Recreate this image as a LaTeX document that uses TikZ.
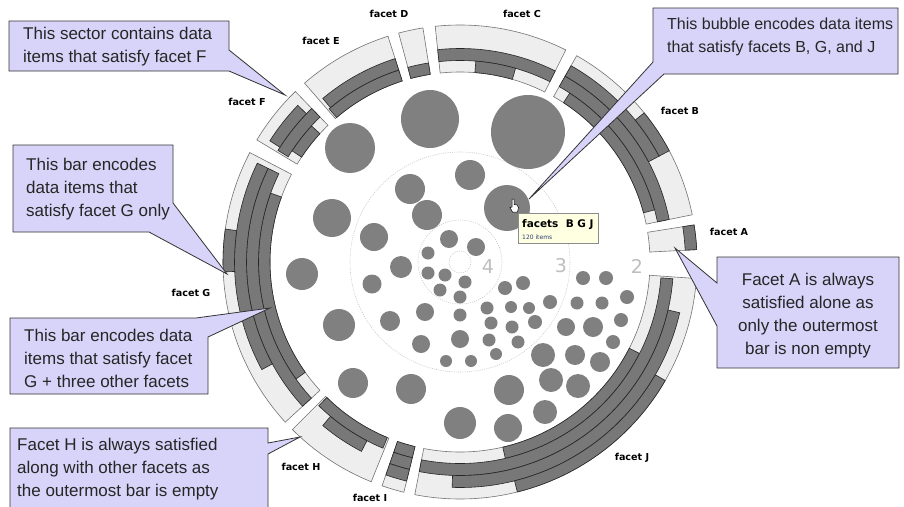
\documentclass[tikz,border=0pt]{standalone}
\usepackage{fontspec}
\newfontfamily\arialf{Liberation Sans}
\newfontfamily\verd{DejaVu Sans}
\definecolor{lav}{RGB}{216,211,248}
\definecolor{ringbg}{RGB}{238,238,238}
\definecolor{barc}{RGB}{120,120,120}
\definecolor{bub}{RGB}{128,128,128}
\definecolor{tipbg}{RGB}{255,255,225}
\definecolor{numc}{RGB}{190,190,190}
\definecolor{dotc}{RGB}{200,200,200}
\definecolor{itemc}{RGB}{40,60,110}
\newcommand\asec[5][]{\path[#1] (#2:#5) arc[start angle=#2,end angle=#3,radius=#5] -- (#3:#4) arc[start angle=#3,end angle=#2,radius=#4] -- cycle;}
\tikzset{
  secbg/.style={fill=ringbg, draw=black!55, line width=0.6pt},
  barsty/.style={fill=barc, draw=black!85, line width=0.6pt},
  bubble/.style={fill=bub},
  callout/.style={fill=lav, draw=black!80, line width=0.8pt, line join=miter},
  calltext/.style={font=\arialf\fontsize{17}{23}\selectfont, text=black!85, inner sep=0pt},
  facetlbl/.style={font=\verd\bfseries\fontsize{9.6}{11}\selectfont, inner sep=0pt},
  numlbl/.style={font=\verd\fontsize{19}{22}\selectfont, text=numc, inner sep=0pt},
  dotring/.style={draw=dotc, line width=0.6pt, dash pattern=on 1pt off 1.2pt},
}
\begin{document}
\begin{tikzpicture}[x=1pt,y=-1pt]
\useasboundingbox (0,0) rectangle (904,506);
\fill[white] (0,0) rectangle (904,506);
% dotted rings
\draw[dotring] (460,262) circle[radius=11];
\draw[dotring] (460,262) circle[radius=42];
\draw[dotring] (460,262) circle[radius=110];
\node[numlbl] (n4) at (488,267) {4};
\node[numlbl] (n3) at (561,266) {3};
\node[numlbl] (n2) at (637,266) {2};
% sectors
\begin{scope}[shift={(460,262)}]
% A
\asec[secbg]{-9}{-3}{190}{237}
\asec[barsty]{-9}{-3}{225.5}{237}
% B
\asec[secbg]{-60.5}{-11.5}{190}{237}
\asec[barsty]{-57}{-15}{190}{201.5}
\asec[barsty]{-60.5}{-11.5}{201.5}{213.5}
\asec[barsty]{-60.5}{-28}{213.5}{225.5}
\asec[barsty]{-39}{-28}{225.5}{237}
% C
\asec[secbg]{-96}{-63.5}{190}{237}
\asec[barsty]{-96}{-63.5}{201.5}{213.5}
\asec[barsty]{-85.5}{-74}{190}{201.5}
% D
\asec[secbg]{-105}{-99}{190}{237}
\asec[barsty]{-105}{-99}{190}{201.5}
% E
\asec[secbg]{-131}{-107.7}{190}{237}
\asec[barsty]{-130.5}{-107.7}{190}{201.5}
\asec[barsty]{-130}{-107.7}{201.5}{213.5}
% F
\asec[secbg]{-149}{-134}{190}{237}
\asec[barsty]{-146.5}{-137.5}{190}{201.5}
\asec[barsty]{-148.5}{-134}{201.5}{213.5}
\asec[barsty]{-147.5}{-136}{213.5}{225.5}
% G
\asec[secbg]{137.5}{207.5}{190}{237}
\asec[barsty]{144.5}{200}{190}{201.5}
\asec[barsty]{137.5}{206}{201.5}{213.5}
\asec[barsty]{151.5}{206}{213.5}{225.5}
\asec[barsty]{177.6}{188}{225.5}{237}
% H
\asec[secbg]{112}{135}{190}{237}
\asec[barsty]{112.5}{134.5}{190}{201.5}
\asec[barsty]{117.5}{130}{201.5}{213.5}
% I
\asec[secbg]{103.7}{109.2}{190}{237}
\asec[barsty]{103.7}{109.2}{190}{201.5}
\asec[barsty]{103.7}{109.2}{201.5}{213.5}
\asec[barsty]{103.7}{109.2}{213.5}{225.5}
% J
\asec[secbg]{4}{101}{190}{237}
\asec[barsty]{27}{77}{190}{201.5}
\asec[barsty]{4.5}{101}{201.5}{213.5}
\asec[barsty]{13}{92}{213.5}{225.5}
\asec[barsty]{30}{76}{225.5}{237}
\end{scope}
% bubbles ring 2
\foreach \bx/\by/\br in {430/119/29, 528/132/37, 350/148/25, 332/218/19, 302/274/16, 339/325/16,
  353/383/15, 411/389/15, 460/423/16, 509/390/15, 508/428/14, 545/412/12, 551/380/12, 578/386/12,
  543/355/12, 575/355/10, 600/362/10, 566/327/9, 593/327/10, 613/342/7, 621/320/7, 627/297/7,
  606/278/7, 583/278/7, 577/303/6.5, 602/303/6.5}
  {\fill[bubble] (\bx,\by) circle[radius=\br];}
% bubbles ring 3
\foreach \bx/\by/\br in {470/175/15, 410/189/15, 427/215/15, 507/208/23, 374/237/14, 401/267/11,
  372/284/9.5, 390/321/10, 425/312/9, 421/344/9, 460/339/9, 446/361/6, 471/361/6, 496/354/6,
  489/340/6.5, 518/342/6.5, 512/327/6.5, 491/323/6.5, 487/308/6.5, 511/307/6, 529/308/6,
  535/322/7, 550/302/7, 505/288/7, 523/283/7}
  {\fill[bubble] (\bx,\by) circle[radius=\br];}
% bubbles ring 4
\foreach \bx/\by/\br in {449/239/9, 476/247/9, 428/253/6.5, 428/273/6.5, 445/275/6.5, 440/290/6.5,
  465/282/6.5, 460/297/6.5, 460/315/6.5}
  {\fill[bubble] (\bx,\by) circle[radius=\br];}
% tooltip
\draw[draw=black!45, fill=tipbg] (518,213) rectangle (598,243);
\node[anchor=west, font=\verd\bfseries\fontsize{10.5}{12}\selectfont, inner sep=0pt] (tt) at (522,225) {facets\ \ B G J};
\node[anchor=west, font=\verd\fontsize{6}{7}\selectfont, text=itemc, inner sep=0pt] (ti) at (522,237.5) {120 items};
% cursor
\draw[fill=white, line width=0.5pt] (512,199) -- (514,199) -- (514,204.5) -- (517,205) -- (518.5,207.5) -- (517.5,212) -- (512.5,212) -- (510,207.5) -- (512,207) -- cycle;
% facet labels
\node[facetlbl] (fa) at (729,232) {facet A};
\node[facetlbl] (fb) at (680,111) {facet B};
\node[facetlbl] (fc) at (522,14) {facet C};
\node[facetlbl] (fd) at (389,14) {facet D};
\node[facetlbl] (fe) at (321,41) {facet E};
\node[facetlbl] (ff) at (247,102) {facet F};
\node[facetlbl] (fg) at (191,293) {facet G};
\node[facetlbl] (fh) at (301,467) {facet H};
\node[facetlbl] (fi) at (370,498) {facet I};
\node[facetlbl] (fj) at (632,458) {facet J};
% callouts
\path[callout] (9,21) -- (229,21) -- (229,50) -- (285,95) -- (229,71) -- (9,71) -- cycle;
\node[calltext, anchor=west, align=left] (c1) at (23,47) {This sector contains data\\items that satisfy facet F};
\path[callout] (653,8) -- (898,8) -- (898,74) -- (664,74) -- (529,199) -- (653,62) -- cycle;
\node[calltext, anchor=west, align=left, font=\arialf\fontsize{16}{23}\selectfont] (c2) at (667,37) {This bubble encodes data items\\that satisfy facets B, G, and J};
\path[callout] (13,145) -- (173,145) -- (173,203) -- (227,274) -- (149,232) -- (13,232) -- cycle;
\node[calltext, anchor=west, align=left] (c3) at (26,189) {This bar encodes\\data items that\\satisfy facet G only};
\path[callout] (10,318) -- (196,318) -- (270,308) -- (208,337) -- (208,394) -- (10,394) -- cycle;
\node[calltext, anchor=west, align=left] (c4) at (24,358) {This bar encodes data\\items that satisfy facet\\G + three other facets};
\path[callout] (717,257) -- (899,257) -- (899,368) -- (717,368) -- (717,326) -- (675,248) -- (717,283) -- cycle;
\node[calltext, align=center] (c5) at (808,316) {Facet A is always\\satisfied alone as\\only the outermost\\bar is non empty};
\path[callout] (10,428) -- (268,428) -- (268,443) -- (300,437) -- (268,454) -- (268,515) -- (10,515) -- cycle;
\node[calltext, anchor=west, align=left] (c6) at (17,469) {Facet H is always satisfied\\along with other facets as\\the outermost bar is empty};
\end{tikzpicture}
\end{document}
